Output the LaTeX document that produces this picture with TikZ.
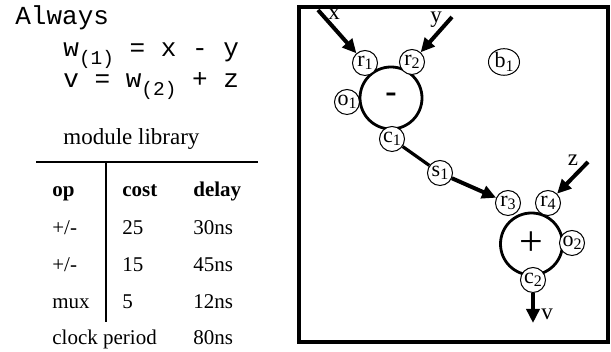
\documentclass[tikz,border=0pt]{standalone}
\usepackage{fontspec}
\setmainfont{Liberation Serif}
\setmonofont{Liberation Mono}
\usetikzlibrary{positioning, arrows.meta, shapes.geometric}

\newcommand{\lo}[1]{\raisebox{-0.35ex}{\fontsize{8}{8}\selectfont #1}}
\newcommand{\eqsub}[1]{\raisebox{-0.3em}{\fontsize{9.75}{10}\selectfont #1}}

\begin{document}
\begin{tikzpicture}[x=0.5pt, y=0.5pt,
  code/.style={anchor=base west, inner sep=0pt, font=\ttfamily\fontsize{13}{13}\selectfont},
  txt/.style={anchor=base west, inner sep=0pt, font=\fontsize{10.5}{10.5}\selectfont},
  lbl/.style={inner sep=0pt, font=\fontsize{11.5}{11.5}\selectfont},
  unit/.style={circle, draw, line width=1.4pt, minimum size=31pt, inner sep=0pt},
  port/.style={circle, draw, line width=0.5pt, fill=white, minimum size=12.5pt,
    inner sep=0pt, font=\fontsize{11}{11}\selectfont},
  bus/.style={line width=2pt, -{Triangle[length=7pt, width=6.5pt]}},
  link/.style={line width=1.6pt},
  rule/.style={line width=0.6pt}
]
\useasboundingbox (0,0) rectangle (611,352);

% behaviour
\node[code] (always) at (15,327) {Always};
\node[code] (eqw) at (63,295) {w\eqsub{(1)} = x - y};
\node[code] (eqv) at (63,264) {v = w\eqsub{(2)} + z};

% module library
\node[txt, font=\fontsize{11.5}{11.5}\selectfont] (libtitle) at (63,207) {module library};
\coordinate (ruleL) at (36,190);
\coordinate (ruleR) at (258,190);
\draw[rule] (ruleL) -- (ruleR);
\coordinate (colT) at (106,190);
\coordinate (colB) at (106,30);
\draw[rule] (colT) -- (colB);

\node[txt] (hop) at (52,155) {\bfseries op};
\node[txt] (hcost) at (122,155) {\bfseries cost};
\node[txt] (hdelay) at (193,155) {\bfseries delay};

\node[txt] (op1) at (52,117) {+/-};
\node[txt] (cost1) at (122,117) {25};
\node[txt] (delay1) at (193,117) {30ns};
\node[txt] (op2) at (52,80) {+/-};
\node[txt] (cost2) at (122,80) {15};
\node[txt] (delay2) at (193,80) {45ns};
\node[txt] (op3) at (52,43) {mux};
\node[txt] (cost3) at (122,43) {5};
\node[txt] (delay3) at (193,43) {12ns};

\node[txt] (clk) at (52,7) {clock period};
\node[txt] (clkval) at (193,7) {80ns};

% datapath
\draw[line width=2pt] (299,10) rectangle (608,345);

\node[unit] (sub) at (391,254) {\raisebox{-0.15em}{\fontsize{17}{17}\selectfont\bfseries -}};
\node[unit] (add) at (531.5,108) {\fontsize{21}{21}\selectfont +};

\node[port] (r1) at (365,289) {r\lo{1}};
\node[port] (r2) at (412,290) {r\lo{2}};
\node[port] (o1) at (347,250) {o\lo{1}};
\node[port] (c1) at (392,213) {c\lo{1}};
\node[port, ellipse, minimum width=15.5pt, minimum height=12pt] (b1) at (504,290) {b\lo{1}};
\node[port] (s1) at (440,179) {s\lo{1}};
\node[port] (r3) at (508,149) {r\lo{3}};
\node[port] (r4) at (548,149) {r\lo{4}};
\node[port] (o2) at (572,109) {o\lo{2}};
\node[port] (c2) at (533,72) {c\lo{2}};

% inputs and output
\coordinate (xin) at (318,342);
\coordinate (yin) at (452,335);
\coordinate (zin) at (588,190);
\coordinate (vout) at (533,29);
\node[lbl] (xlbl) at (334,338) {x};
\node[lbl] (ylbl) at (436,332) {y};
\node[lbl] (zlbl) at (573,192) {z};
\node[lbl] (vlbl) at (547,38) {v};

\draw[bus] (xin) -- (r1);
\draw[bus] (yin) -- (r2);
\draw[link] (c1) -- (s1);
\draw[bus] (s1) -- (r3);
\draw[bus] (zin) -- (r4);
\draw[bus] (c2) -- (vout);

\end{tikzpicture}
\end{document}
